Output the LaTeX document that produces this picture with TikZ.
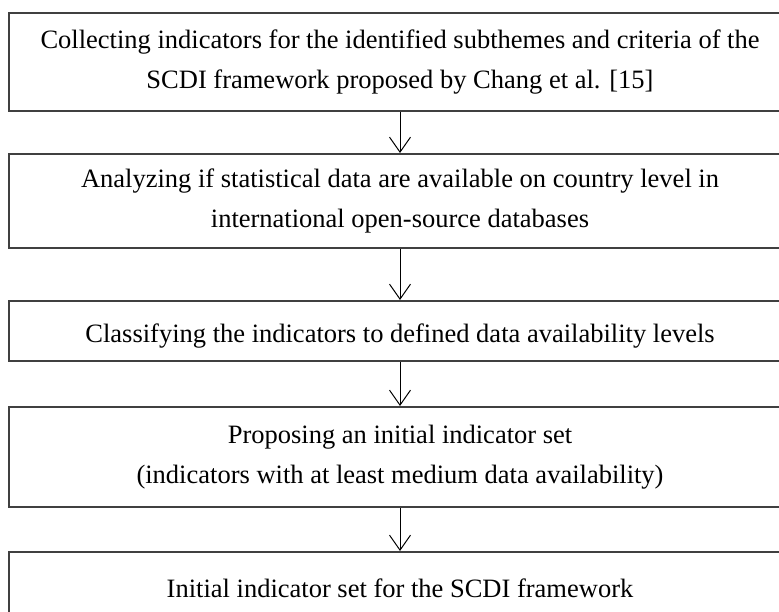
\documentclass[tikz,border=0pt]{standalone}
\usepackage{fontspec}
\setmainfont{Liberation Serif}
\usepackage{tikz}
\usetikzlibrary{arrows.meta}

\tikzset{
	stagebox/.style = {draw = black!75, line width = 2pt, inner sep = 0pt,
		minimum width = 782pt, align = center,
		font = \fontsize{26.5}{40}\selectfont,
		execute at begin node = {\rule{0pt}{29pt}}},
	flowarrow/.style = {line width = 1pt, -{Straight Barb[length = 15pt, width = 21pt]}}
}

\begin{document}
\begin{tikzpicture}[x = 1pt, y = -1pt]
			\def\xMID{400};
			\def\wMAX{779};
			\def\hMAX{612};

			\clip (0,0) rectangle (\wMAX,\hMAX);

			\begin{scope}
				\node [stagebox, minimum height = 98pt] (collect) at (\xMID,62)
					{Collecting indicators for the identified subthemes and criteria of the\\SCDI framework proposed by Chang et al. [15]};
				\node [stagebox, minimum height = 94pt] (analyze) at (\xMID,201)
					{Analyzing if statistical data are available on country level in\\international open-source databases};
				\node [stagebox, minimum height = 60pt] (classify) at (\xMID,331)
					{Classifying the indicators to defined data availability levels};
				\node [stagebox, minimum height = 100pt] (propose) at (\xMID,457)
					{Proposing an initial indicator set\\(indicators with at least medium data availability)};
				\node [stagebox, minimum height = 62pt] (initset) at (\xMID,583)
					{Initial indicator set for the SCDI framework};
			\end{scope}

			\begin{scope}[flowarrow]
				\draw (collect) -- (analyze);
				\draw (analyze) -- (classify);
				\draw (classify) -- (propose);
				\draw (propose) -- (initset);
			\end{scope}
		\end{tikzpicture}
\end{document}
